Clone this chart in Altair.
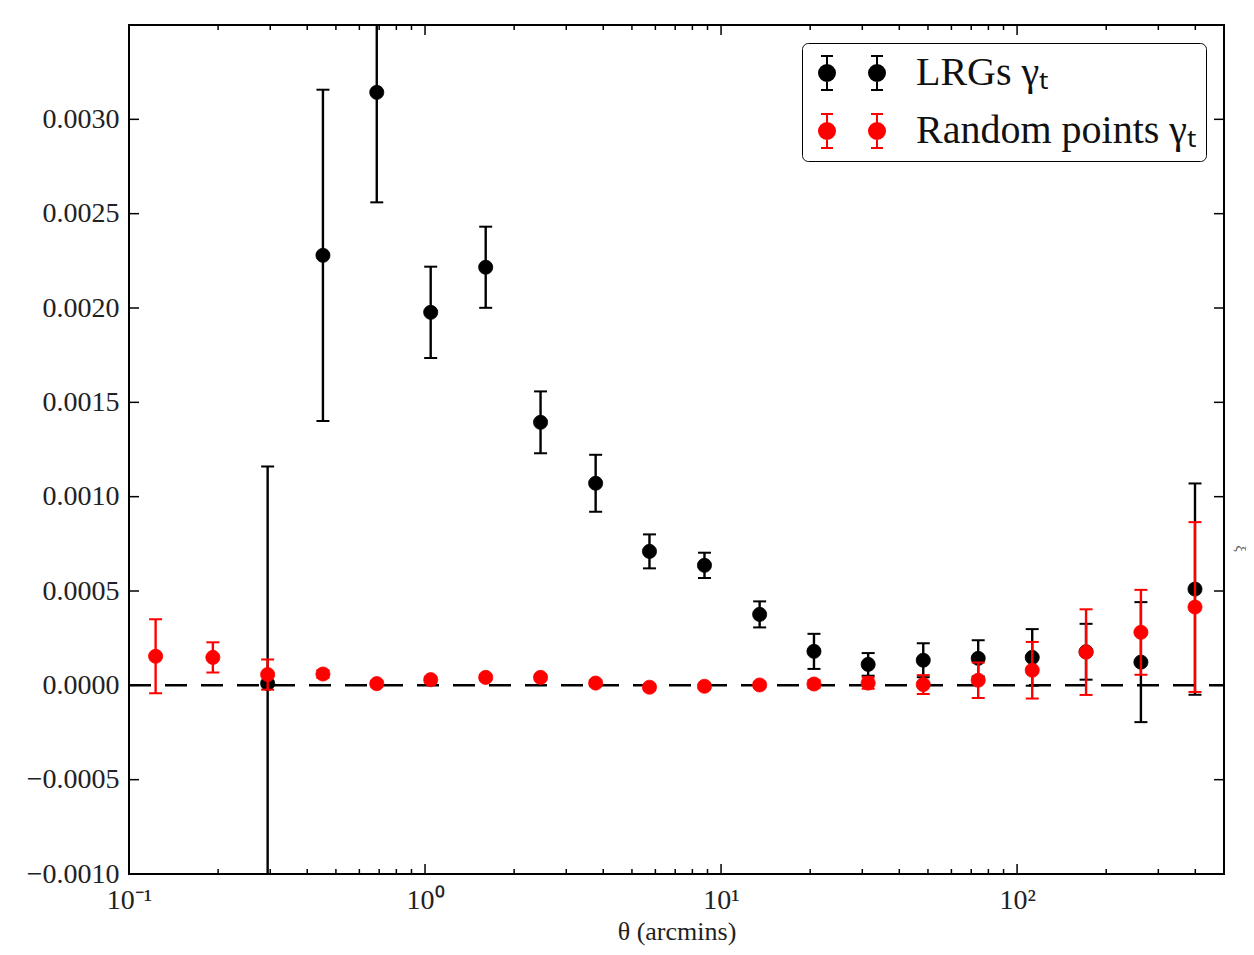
import altair as alt
import pandas as pd

# ---------------- data ----------------
theta = [0.123, 0.192, 0.294, 0.452, 0.687, 1.045, 1.603, 2.456, 3.77, 5.73,
         8.79, 13.5, 20.6, 31.4, 48.2, 73.9, 112.5, 171.0, 262.0, 399.0]

lrg_gt = [None, None, 0.00001, 0.002279, 0.003143, 0.001977, 0.002216, 0.001394,
          0.001071, 0.00071, 0.000636, 0.000376, 0.00018, 0.000111, 0.000133,
          0.000143, 0.000148, 0.000178, 0.000123, 0.00051]
lrg_err = [None, None, 0.00115, 0.000878, 0.000583, 0.000242, 0.000215, 0.000164,
           0.000151, 0.00009, 0.000067, 0.000069, 0.000093, 0.00006, 0.00009,
           0.000096, 0.00015, 0.000148, 0.000318, 0.00056]

rnd_gt = [0.000154, 0.000148, 0.000057, 0.00006, 0.000009, 0.00003, 0.000042,
          0.000042, 0.000012, -0.00001, -0.000005, 0.000002, 0.000007, 0.000012,
          0.000004, 0.000027, 0.00008, 0.000176, 0.000281, 0.000415]
rnd_err = [0.000196, 0.00008, 0.00008, 0.00002, 0.000015, 0.000015, 0.000015,
           0.000015, 0.000015, 0.000015, 0.000015, 0.000015, 0.00002, 0.00003,
           0.00005, 0.000094, 0.00015, 0.000227, 0.000225, 0.00045]

series = ["LRGs γₜ", "Random points γₜ"]
colors = ["#000000", "#ff0000"]

y_ticks = [-0.001, -0.0005, 0.0, 0.0005, 0.001, 0.0015, 0.002, 0.0025, 0.003]
x_major = [0.1, 1, 10, 100]
x_minor = [0.2, 0.3, 0.4, 0.5, 0.6, 0.7, 0.8, 0.9,
           2, 3, 4, 5, 6, 7, 8, 9,
           20, 30, 40, 50, 60, 70, 80, 90,
           200, 300, 400]
zero_line = [0.0]

# ---------------- tables ----------------
def table(name, gts, errs):
    rows = []
    for t, g, e in zip(theta, gts, errs):
        if g is None:
            continue
        rows.append({"theta": t, "gt": g, "lo": g - e, "hi": g + e, "series": name})
    return pd.DataFrame(rows)

df_lrg = table(series[0], lrg_gt, lrg_err)
df_rnd = table(series[1], rnd_gt, rnd_err)

W, H = 1095, 849
F = "Liberation Serif"
TXT = "#222222"

xs = alt.Scale(type="log", domain=[0.1, 500], nice=False)
ys = alt.Scale(domain=[-0.001, 0.0035], nice=False, zero=False)

x_axis = alt.Axis(
    values=x_major,
    labelExpr="datum.value < 0.5 ? '10⁻¹' : datum.value < 5 ? '10⁰' : datum.value < 50 ? '10¹' : '10²'",
    ticks=False, domain=False, grid=False,
    labelFont=F, labelFontSize=28, labelColor=TXT, labelPadding=12, labelFlush=False,
    title="θ (arcmins)", titleFont=F, titleFontSize=26, titleFontWeight="normal",
    titleColor=TXT, titlePadding=4,
)
y_axis = alt.Axis(
    values=y_ticks, format=".4f", ticks=False, domain=False, grid=False,
    labelFont=F, labelFontSize=28, labelColor=TXT, labelPadding=10, title=None,
)
y_axis_right = alt.Axis(
    orient="right", labels=False, ticks=False, domain=False, grid=False,
    title="ξ", titleFont=F, titleFontSize=14, titleFontWeight="normal",
    titleColor="#555555", titleAngle=90, titlePadding=8, titleY=523,
)

def X(f):
    return alt.X(f, type="quantitative", scale=xs, axis=x_axis)

def Y(f, axis=None):
    return alt.Y(f, type="quantitative", scale=ys, axis=axis)

def marker(cx):
    return (f"M{cx},-0.85L{cx},0.85"
            f"M{cx-0.3:.2f},-0.85L{cx+0.3:.2f},-0.85"
            f"M{cx-0.3:.2f},0.85L{cx+0.3:.2f},0.85"
            f"M{cx-0.4:.2f},0A0.4,0.4,0,1,1,{cx+0.4:.2f},0"
            f"A0.4,0.4,0,1,1,{cx-0.4:.2f},0Z")

legend_path = marker(-1.25) + marker(1.25)
legend = alt.Legend(
    title=None, orient="top-right", offset=18, padding=9,
    strokeColor="#000000", fillColor="#ffffff", cornerRadius=6,
    symbolType=legend_path, symbolSize=1600, symbolStrokeWidth=2,
    symbolOffset=20,
    labelFont=F, labelFontSize=40, labelColor="#111111", labelOffset=43,
    labelLimit=500, rowPadding=16, symbolOpacity=1,
)
cscale = alt.Scale(domain=series, range=colors)

# ---------------- layers ----------------
zero = alt.Chart(pd.DataFrame({"v": zero_line})).mark_rule(
    color="black", strokeWidth=2.5, strokeDash=[22, 14]
).encode(y=Y("v:Q"), x=alt.value(0), x2=alt.value(W))

def series_layers(df, col):
    base = alt.Chart(df)
    bars = base.mark_rule(color=col, strokeWidth=2.4, clip=True, opacity=1).encode(
        x=X("theta:Q"), y=Y("lo:Q"), y2="hi:Q")
    cap_lo = base.mark_tick(color=col, orient="horizontal", size=13, thickness=2,
                            clip=True, opacity=1).encode(x=X("theta:Q"), y=Y("lo:Q"))
    cap_hi = base.mark_tick(color=col, orient="horizontal", size=13, thickness=2,
                            clip=True, opacity=1).encode(x=X("theta:Q"), y=Y("hi:Q"))
    pts = base.mark_point(filled=True, shape="circle", size=200, opacity=1,
                          strokeWidth=0.8).encode(
        x=X("theta:Q"), y=Y("gt:Q"),
        fill=alt.Fill("series:N", scale=cscale, legend=legend),
        stroke=alt.Stroke("series:N", scale=cscale, legend=legend),
    )
    return [bars, cap_lo, cap_hi, pts]

xmaj = pd.DataFrame({"v": x_major})
xmin = pd.DataFrame({"v": x_minor})
ytk = pd.DataFrame({"v": y_ticks})

tick_style = dict(color="black", strokeWidth=1.5)
xt_bot_maj = alt.Chart(xmaj).mark_rule(**tick_style).encode(
    x=X("v:Q"), y=alt.value(H), y2=alt.value(H - 10))
xt_top_maj = alt.Chart(xmaj).mark_rule(**tick_style).encode(
    x=X("v:Q"), y=alt.value(0), y2=alt.value(10))
xt_bot_min = alt.Chart(xmin).mark_rule(**tick_style).encode(
    x=X("v:Q"), y=alt.value(H), y2=alt.value(H - 5))
xt_top_min = alt.Chart(xmin).mark_rule(**tick_style).encode(
    x=X("v:Q"), y=alt.value(0), y2=alt.value(5))
yt_left = alt.Chart(ytk).mark_rule(**tick_style).encode(
    y=Y("v:Q", y_axis), x=alt.value(0), x2=alt.value(10))
yt_right = alt.Chart(ytk).mark_rule(**tick_style).encode(
    y=Y("v:Q", y_axis_right), x=alt.value(W), x2=alt.value(W - 10))

layers = [yt_left, yt_right, zero, xt_bot_maj, xt_top_maj, xt_bot_min, xt_top_min]
layers += series_layers(df_lrg, colors[0])
layers += series_layers(df_rnd, colors[1])

chart = alt.layer(*layers).resolve_axis(y="independent").properties(
    width=W, height=H,
    autosize=alt.AutoSizeParams(type="none"),
    padding={"left": 121, "top": 17, "right": 22, "bottom": 72},
    background="white",
).configure_view(stroke="black", strokeWidth=2)

chart.save("out.html", embed_options={"renderer": "svg", "actions": False})
